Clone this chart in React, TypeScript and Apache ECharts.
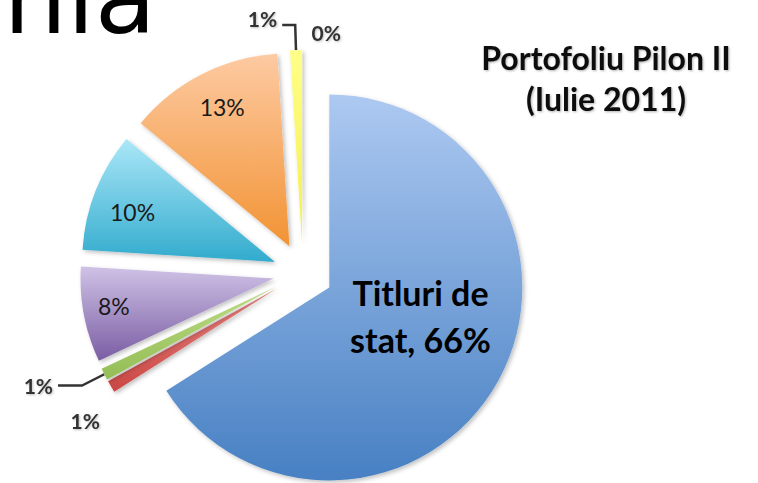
import React, { useEffect, useRef } from 'react';
import * as echarts from 'echarts';

// ---- data ----
const categories = ['Titluri de\nstat', 'Clasa 2', 'Clasa 3', 'Clasa 4', 'Clasa 5', 'Clasa 6', 'Clasa 7', 'Clasa 8'];
const values = [66, 1, 1, 8, 10, 13, 1, 0];
const titleLines = ['Portofoliu Pilon II', '(Iulie 2011)'];
const slideTitleFragment = 'nia';

// ---- styles ----
const gradTop = ['#adc9f1', '#ea8683', '#bedc86', '#cfc2e6', '#abe7f8', '#fdcaa2', '#ffff88', '#ffff88'];
const gradBottom = ['#4780c3', '#c94643', '#93bd55', '#7a5da3', '#32abcd', '#f29334', '#f3ee4e', '#f3ee4e'];
// label placement: 'inside' or 'outside'
const labelPlace = ['inside', 'outside', 'outside', 'inside', 'inside', 'inside', 'outside', 'outside'];
const showLine = [false, false, true, false, false, false, true, false];
const lineLen = [0, 20, 25, 0, 0, 0, 25, 25];
const lineLen2 = [0, 0, 24, 0, 0, 0, 13, 13];
const labelNudge: Array<[number, number]> = [[4, -19], [11, 24], [0, 0], [-62, 9], [-50, -13], [-22, -51], [0, -7], [56, 7]];

export default function App() {
  const ref = useRef<HTMLDivElement>(null);
  useEffect(() => {
    if (!ref.current) return;
    const chart = echarts.init(ref.current, null, { renderer: 'svg' });
    const data = values.map((v, i) => {
      const inside = labelPlace[i] === 'inside';
      return {
        name: categories[i],
        value: v,
        selected: true,
        itemStyle: {
          color: new echarts.graphic.LinearGradient(0, 0, 0, 1, [
            { offset: 0, color: gradTop[i] },
            { offset: 1, color: gradBottom[i] },
          ]),
        },
        label: inside
          ? i === 0
            ? { position: 'inside', formatter: '{b}, {d}%', fontSize: 34, fontWeight: 'bold', lineHeight: 47, color: '#000', fontFamily: 'Lato' }
            : { position: 'inside', formatter: '{d}%', fontSize: 23, color: '#1a1a1a', fontFamily: 'Lato' }
          : { position: 'outside', formatter: '{d}%', fontSize: 21, fontWeight: 'bold', color: '#333', fontFamily: 'Lato', textShadowColor: 'rgba(0,0,0,0.25)', textShadowBlur: 2, textShadowOffsetX: 1, textShadowOffsetY: 1 },
        labelLine: { show: showLine[i], length: lineLen[i], length2: lineLen2[i], lineStyle: { color: '#333', width: 2.5 } },
      };
    });
    chart.setOption({
      animation: false,
      backgroundColor: '#ffffff',
      title: {
        text: titleLines.join('\n'),
        left: 601,
        top: 32,
        textAlign: 'center',
        textStyle: {
          fontFamily: 'Lato',
          fontWeight: 'bold',
          fontSize: 32,
          lineHeight: 41,
          color: '#111',
          textShadowColor: 'rgba(0,0,0,0.3)',
          textShadowBlur: 2,
          textShadowOffsetX: 1,
          textShadowOffsetY: 1,
        },
      },
      graphic: [
        {
          type: 'text',
          x: 156,
          y: 48,
          style: {
            text: slideTitleFragment,
            fill: '#000',
            font: '100px "DejaVu Sans"',
            textAlign: 'right',
            textVerticalAlign: 'bottom',
          },
        },
      ],
      series: [
        {
          type: 'pie',
          radius: 193,
          center: [303, 273],
          startAngle: 90,
          clockwise: true,
          selectedMode: 'multiple',
          selectedOffset: 30,
          avoidLabelOverlap: false,
          percentPrecision: 0,
          emphasis: { disabled: true },
          itemStyle: {
            shadowColor: 'rgba(0,0,0,0.25)',
            shadowBlur: 4,
            shadowOffsetX: 2,
            shadowOffsetY: 2,
          },
          labelLayout: (params: any) => {
            const n = labelNudge[params.dataIndex];
            return n && (n[0] || n[1]) ? { dx: n[0], dy: n[1] } : {};
          },
          data,
        },
      ],
    });
    return () => chart.dispose();
  }, []);
  return <div ref={ref} style={{ position: 'absolute', left: 0, top: 0, width: 758, height: 483 }} />;
}
